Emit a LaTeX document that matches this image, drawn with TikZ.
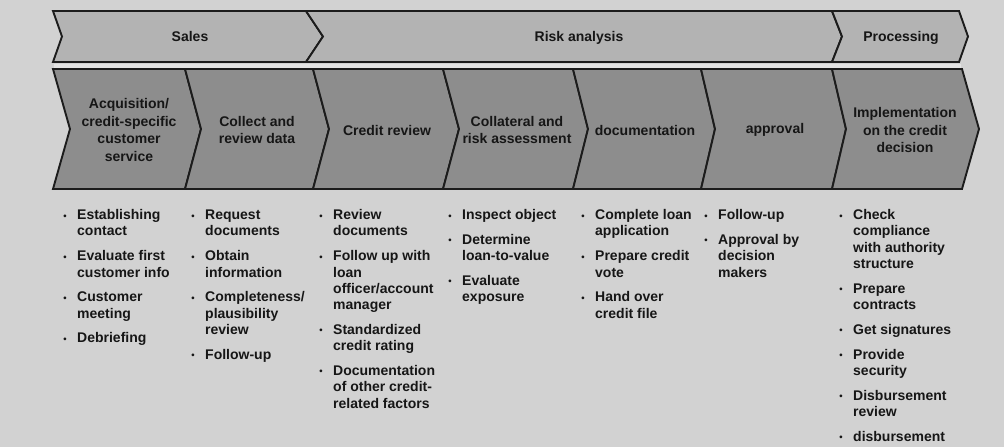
\documentclass[tikz,border=0pt]{standalone}
\usepackage{fontspec}
\setmainfont{Liberation Sans}
\definecolor{bgc}{HTML}{D2D2D2}
\definecolor{topc}{HTML}{B3B3B3}
\definecolor{botc}{HTML}{8D8D8D}
\definecolor{linec}{HTML}{1C1C1C}
\definecolor{txtc}{HTML}{161616}
\definecolor{gapc}{HTML}{E4E4E4}
\newcommand{\bu}{\llap{\raisebox{0.6pt}{\fontsize{9.5}{9.5}\selectfont •}\hspace{10.5pt}}}
\begin{document}
\begin{tikzpicture}[x=1pt,y=-1pt,
  tchev/.style={fill=topc,draw=linec,line width=1.9pt,line join=miter},
  bchev/.style={fill=botc,draw=linec,line width=1.9pt,line join=miter},
  ttext/.style={font=\fontsize{14}{17}\selectfont\bfseries,text=txtc,inner sep=0pt,anchor=base},
  hdr/.style={font=\fontsize{14}{17.5}\selectfont\bfseries,text=txtc,inner sep=0pt,align=center},
  lst/.style={font=\fontsize{14}{16.3}\selectfont\bfseries,text=txtc,inner sep=0pt,anchor=north west}]
\path[fill=bgc] (0,0) rectangle (1004,447);
% light gap between the rows
\path[fill=gapc] (54,63.5) rectangle (961,67.5);
% top row
\draw[tchev] (53,11) -- (306,11) -- (323,36.5) -- (306,62) -- (53,62) -- (62,36.5) -- cycle;
\draw[tchev] (306,11) -- (832,11) -- (842,36.5) -- (832,62) -- (306,62) -- (323,36.5) -- cycle;
\draw[tchev] (832,11) -- (959,11) -- (968,36.5) -- (959,62) -- (832,62) -- (842,36.5) -- cycle;
\node[ttext] (sales) at (190,41.5) {Sales};
\node[ttext] (risk) at (579,41.5) {Risk analysis};
\node[ttext] (proc) at (901,41.5) {Processing};
% bottom row
\draw[bchev] (53,69) -- (185,69) -- (201,129) -- (185,189) -- (53,189) -- (70,129) -- cycle;
\draw[bchev] (185,69) -- (313,69) -- (329,129) -- (313,189) -- (185,189) -- (201,129) -- cycle;
\draw[bchev] (313,69) -- (443,69) -- (459,129) -- (443,189) -- (313,189) -- (329,129) -- cycle;
\draw[bchev] (443,69) -- (573,69) -- (588,129) -- (573,189) -- (443,189) -- (459,129) -- cycle;
\draw[bchev] (573,69) -- (701,69) -- (715,129) -- (701,189) -- (573,189) -- (588,129) -- cycle;
\draw[bchev] (701,69) -- (832,69) -- (846,129) -- (832,189) -- (701,189) -- (715,129) -- cycle;
\draw[bchev] (832,69) -- (962,69) -- (979,129) -- (962,189) -- (832,189) -- (846,129) -- cycle;
\node[hdr] (h1) at (129,130) {Acquisition/\\credit-specific\\customer\\service};
\node[hdr] (h2) at (257,130) {Collect and\\review data};
\node[hdr] (h3) at (387,130) {Credit review};
\node[hdr] (h4) at (517,130) {Collateral and\\risk assessment};
\node[hdr] (h5) at (645,130) {documentation};
\node[hdr] (h6) at (775,130) {approval};
\node[hdr] (h7) at (905,130) {Implementation\\on the credit\\decision};
% bullet lists
\node[lst] (l1) at (77,208) {\begin{tabular}[t]{@{}l@{}}\bu Establishing\\contact\\[8.5pt]\bu Evaluate first\\customer info\\[8.5pt]\bu Customer\\meeting\\[8.5pt]\bu Debriefing\end{tabular}};
\node[lst] (l2) at (205,208) {\begin{tabular}[t]{@{}l@{}}\bu Request\\documents\\[8.5pt]\bu Obtain\\information\\[8.5pt]\bu Completeness/\\plausibility\\review\\[8.5pt]\bu Follow-up\end{tabular}};
\node[lst] (l3) at (333,208) {\begin{tabular}[t]{@{}l@{}}\bu Review\\documents\\[8.5pt]\bu Follow up with\\loan\\officer/account\\manager\\[8.5pt]\bu Standardized\\credit rating\\[8.5pt]\bu Documentation\\of other credit-\\related factors\end{tabular}};
\node[lst] (l4) at (462,208) {\begin{tabular}[t]{@{}l@{}}\bu Inspect object\\[8.5pt]\bu Determine\\loan-to-value\\[8.5pt]\bu Evaluate\\exposure\end{tabular}};
\node[lst] (l5) at (595,208) {\begin{tabular}[t]{@{}l@{}}\bu Complete loan\\application\\[8.5pt]\bu Prepare credit\\vote\\[8.5pt]\bu Hand over\\credit file\end{tabular}};
\node[lst] (l6) at (718,208) {\begin{tabular}[t]{@{}l@{}}\bu Follow-up\\[8.5pt]\bu Approval by\\decision\\makers\end{tabular}};
\node[lst] (l7) at (853,208) {\begin{tabular}[t]{@{}l@{}}\bu Check\\compliance\\with authority\\structure\\[8.5pt]\bu Prepare\\contracts\\[8.5pt]\bu Get signatures\\[8.5pt]\bu Provide\\security\\[8.5pt]\bu Disbursement\\review\\[8.5pt]\bu disbursement\end{tabular}};
\end{tikzpicture}
\end{document}
